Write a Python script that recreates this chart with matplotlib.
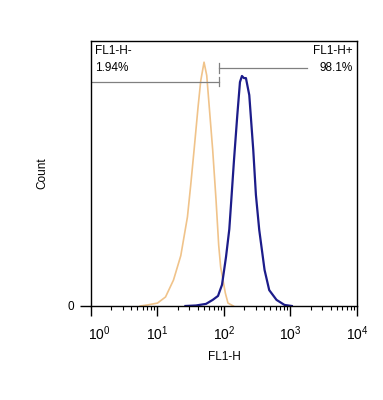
import numpy as np
import matplotlib
matplotlib.use('Agg')
import matplotlib.pyplot as plt
import matplotlib.transforms as mtransforms
from matplotlib.ticker import LogLocator, NullFormatter

plt.rcParams['font.family'] = ['Liberation Sans', 'DejaVu Sans']
plt.rcParams['mathtext.fontset'] = 'custom'
plt.rcParams['mathtext.rm'] = 'Liberation Sans'

# histogram traces (FL1-H, count in % of axis)
neg_x = [5.5, 7.1, 10.0, 13.2, 17.4, 22.4, 28.2, 31.6, 35.5, 40.7, 44.7, 50.1,
         55.0, 58.9, 67.6, 75.9, 83.2, 89.1, 104.7, 114.8, 138.0]
neg_y = [0, 0.4, 1.1, 3.4, 9.8, 19, 33.6, 45.7, 58.9, 75, 85, 92,
         87, 77.7, 58.9, 40, 23, 14.7, 4.9, 1.1, 0]
pos_x = [26.3, 38.0, 53.7, 67.6, 81.3, 93.3, 107.2, 120.2, 128.8, 141.3, 158.5,
         173.8, 186.2, 199.5, 213.8, 239.9, 275.4, 302.0, 338.8, 407.4, 478.6,
         616.6, 812.8, 1047.0]
pos_y = [0, 0.2, 0.8, 2.3, 3.8, 8, 18.5, 29, 40, 55, 72,
         84.5, 86.8, 86, 86, 79.6, 58.9, 41.9, 28.7, 13.6, 6,
         2.3, 0.4, 0]

gate_edge = 84.0
neg_label = ['FL1-H-', '1.94%']
pos_label = ['FL1-H+', '98.1%']

fig = plt.figure(figsize=(3.83, 4.0), dpi=100)
ax = fig.add_axes([0.2376, 0.235, 0.6945, 0.6625])

ax.plot(neg_x, neg_y, color='#f0c38a', lw=1.2)
ax.plot(pos_x, pos_y, color='#1c1c8a', lw=1.6)

ax.set_xscale('log')
ax.set_xlim(1, 1e4)
ax.set_ylim(0, 100)

# gates
gc = '#808080'
ax.plot([1, gate_edge], [84.5, 84.5], color=gc, lw=0.9)
ax.plot([gate_edge, gate_edge], [83.2, 86.6], color=gc, lw=0.9)
ax.plot([gate_edge, 1750], [89.8, 89.8], color=gc, lw=0.9)
ax.plot([gate_edge, gate_edge], [87.9, 91.8], color=gc, lw=0.9)

ax.text(0.015, 0.985, neg_label[0], transform=ax.transAxes, fontsize=8.5, va='top', ha='left')
ax.text(0.015, 0.92, neg_label[1], transform=ax.transAxes, fontsize=8.5, va='top', ha='left')
ax.text(0.985, 0.985, pos_label[0], transform=ax.transAxes, fontsize=8.5, va='top', ha='right')
ax.text(0.985, 0.92, pos_label[1], transform=ax.transAxes, fontsize=8.5, va='top', ha='right',
        bbox=dict(facecolor='white', edgecolor='none', pad=0.3))

ax.xaxis.set_minor_locator(LogLocator(base=10, subs=np.arange(2, 10), numticks=100))
ax.xaxis.set_minor_formatter(NullFormatter())
ax.set_xticks([1, 10, 100, 1000, 10000])
ax.set_xticklabels([r'$10^{%d}$' % i for i in range(5)], fontsize=10)
ax.tick_params(axis='x', which='major', length=7, width=1, direction='out', pad=6)
ax.tick_params(axis='x', which='minor', length=3, width=0.8, direction='out')
first = ax.get_xticklabels()[0]
first.set_transform(first.get_transform() + mtransforms.ScaledTranslation(8 / 100, 0, fig.dpi_scale_trans))
ax.set_yticks([0])
ax.set_yticklabels(['0'], fontsize=8.5)
ax.tick_params(axis='y', length=8, width=1, direction='out', pad=4)

for s in ax.spines.values():
    s.set_linewidth(1.0)

ax.set_xlabel('FL1-H', fontsize=8.5, labelpad=6)
ax.set_ylabel('Count', fontsize=8.5, labelpad=14)

fig.savefig('out.png', dpi=100)
